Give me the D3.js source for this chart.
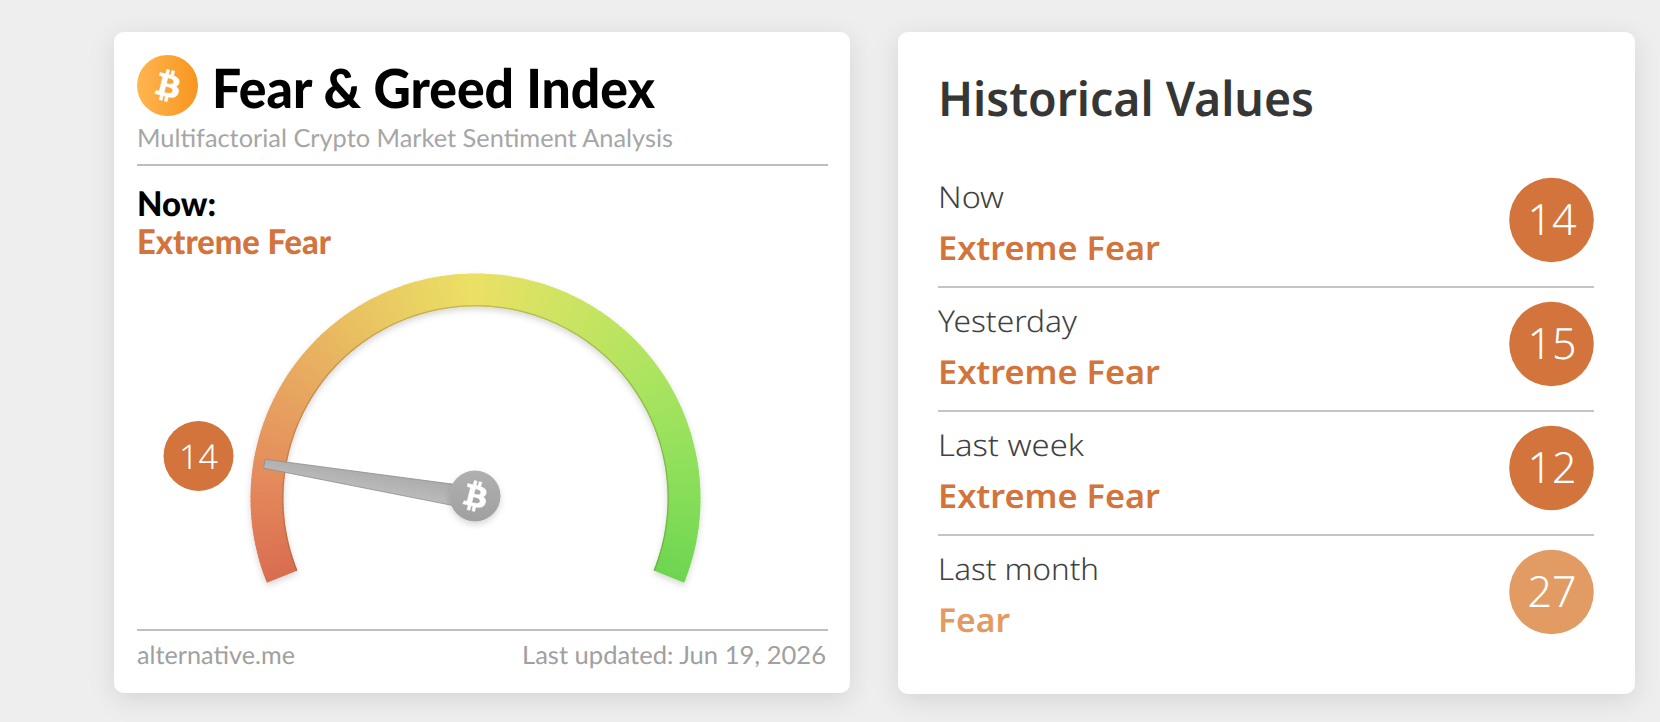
<!DOCTYPE html>
<html>
<head>
<meta charset="utf-8">
<style>
  html, body { margin: 0; padding: 0; background: #eeeeee; }
  svg { display: block; }
  text { text-rendering: geometricPrecision; }
</style>
<script src="https://cdn.jsdelivr.net/npm/d3@7"></script>
</head>
<body>
<svg id="page" width="1660" height="722"></svg>
<script>
// Readings shown in the history list
const periods = ["Now", "Yesterday", "Last week", "Last month"];
const periodValues = [14, 15, 12, 27];
const periodLabels = ["Extreme Fear", "Extreme Fear", "Extreme Fear", "Fear"];
const currentValue = 14;
const currentLabel = "Extreme Fear";

// Gauge colour ramp, from index value to colour
const rampValues = [0, 12, 25, 38, 50, 62, 75, 88, 100];
const rampColors = ["#d96c50", "#e48a5c", "#e8a960", "#e9c962", "#ebe066", "#cbe462", "#abe45f", "#8bdf5a", "#6dd551"];

// Sentiment bands used for the badges and their captions
const bandLimits = [25, 46, 55, 75];
const bandColors = ["#d2743b", "#e39b64", "#d8c45c", "#9bc95c", "#65b94f"];

const BTC_GLYPH = "M23.189 14.02c.314-2.096-1.283-3.223-3.465-3.975l.708-2.84-1.728-.43-.69 2.765c-.454-.114-.92-.22-1.385-.326l.695-2.783L15.596 6l-.708 2.839c-.376-.086-.746-.17-1.104-.26l.002-.009-2.384-.595-.46 1.846s1.283.294 1.256.312c.7.175.826.638.805 1.006l-.806 3.235c.048.012.11.03.18.057l-.183-.045-1.13 4.532c-.086.212-.303.531-.793.41.018.025-1.256-.313-1.256-.313l-.858 1.978 2.25.561c.418.105.828.215 1.231.318l-.715 2.872 1.727.43.708-2.84c.472.127.93.245 1.378.357l-.706 2.828 1.728.43.715-2.866c2.948.558 5.164.333 6.097-2.333.752-2.146-.037-3.385-1.588-4.192 1.13-.26 1.98-1.003 2.207-2.538zm-3.95 5.538c-.533 2.147-4.148.986-5.32.695l.95-3.805c1.172.293 4.929.872 4.37 3.11zm.535-5.569c-.487 1.953-3.495.96-4.47.717l.86-3.45c.975.243 4.118.696 3.61 2.733z";

const svg = d3.select("#page");
const defs = svg.append("defs");

const bandColor = d3.scaleThreshold().domain(bandLimits).range(bandColors);
const rampColor = d3.scaleLinear().domain(rampValues).range(rampColors);

// Shared filters and gradients
const cardShadow = defs.append("filter").attr("id", "cardShadow")
  .attr("x", "-10%").attr("y", "-10%").attr("width", "120%").attr("height", "120%");
cardShadow.append("feDropShadow").attr("dx", 0).attr("dy", 6).attr("stdDeviation", 12)
  .attr("flood-color", "#000").attr("flood-opacity", 0.11);

const gaugeShadow = defs.append("filter").attr("id", "gaugeShadow")
  .attr("x", "-10%").attr("y", "-10%").attr("width", "120%").attr("height", "125%");
gaugeShadow.append("feDropShadow").attr("dx", 0).attr("dy", 3).attr("stdDeviation", 3)
  .attr("flood-color", "#000").attr("flood-opacity", 0.16);

const iconFill = defs.append("linearGradient").attr("id", "iconFill");
iconFill.append("stop").attr("offset", "0%").attr("stop-color", "#ffb551");
iconFill.append("stop").attr("offset", "100%").attr("stop-color", "#f7961f");

const needleFill = defs.append("linearGradient").attr("id", "needleFill");
needleFill.append("stop").attr("offset", "0%").attr("stop-color", "#bcbcbc");
needleFill.append("stop").attr("offset", "100%").attr("stop-color", "#ababab");

const hubFill = defs.append("linearGradient").attr("id", "hubFill")
  .attr("x1", 0).attr("x2", 0).attr("y1", 0).attr("y2", 1);
hubFill.append("stop").attr("offset", "0%").attr("stop-color", "#b0b0b0");
hubFill.append("stop").attr("offset", "100%").attr("stop-color", "#a0a0a0");

// Text helper: the width is pinned so each line keeps its measure in the fallback face
function label(parent, str, x, y, opts) {
  const t = parent.append("text")
    .attr("x", x).attr("y", y)
    .attr("font-family", opts.family)
    .attr("font-size", opts.size)
    .attr("font-weight", opts.weight || 400)
    .attr("fill", opts.fill)
    .attr("text-anchor", opts.anchor || "start")
    .text(str);
  if (opts.width) t.attr("textLength", opts.width).attr("lengthAdjust", "spacingAndGlyphs");
  return t;
}

// Cards
[[114, 32, 736, 661], [898, 32, 737, 662]].forEach(([x, y, w, h]) => {
  svg.append("rect").attr("x", x).attr("y", y).attr("width", w).attr("height", h)
    .attr("rx", 10).attr("fill", "#fff").attr("filter", "url(#cardShadow)");
});

// Left card header
const lato = "Lato, 'Liberation Sans', sans-serif";
const head = svg.append("g");
head.append("circle").attr("cx", 167.5).attr("cy", 85.5).attr("r", 30.5).attr("fill", "url(#iconFill)");
head.append("path").attr("d", BTC_GLYPH).attr("fill", "#fff").attr("stroke", "#fff").attr("stroke-width", 0.35)
  .attr("transform", "translate(167.5,85.5) scale(1.62) translate(-16,-16)");
label(head, "Fear & Greed Index", 212, 108, { family: lato, size: 54, weight: 900, fill: "#000", width: 443 });
label(head, "Multifactorial Crypto Market Sentiment Analysis", 137, 147,
  { family: lato, size: 25, fill: "#a6a6a6", width: 536 });
head.append("line").attr("x1", 137).attr("x2", 828).attr("y1", 165).attr("y2", 165)
  .attr("stroke", "#a8a8a8").attr("stroke-width", 1.5);
label(head, "Now:", 137, 216, { family: lato, size: 34, weight: 900, fill: "#000", width: 79 });
label(head, currentLabel, 137, 254, { family: lato, size: 34, weight: 900, fill: bandColor(currentValue), width: 194 });

// Gauge
const cx = 475.5, cy = 498.5, outerR = 225, innerR = 192;
const angle = d3.scaleLinear().domain([0, 100]).range([-112, 112]);
const toRad = d => d * Math.PI / 180;
const gauge = svg.append("g").attr("transform", `translate(${cx},${cy})`);

const arc = d3.arc().innerRadius(innerR).outerRadius(outerR);
const sliceValues = d3.range(0, 100, 0.5);
const band = gauge.append("g").attr("filter", "url(#gaugeShadow)");
band.selectAll("path").data(sliceValues).join("path")
  .attr("d", v => arc({
    startAngle: toRad(angle(v)),
    endAngle: toRad(angle(Math.min(v + 0.62, 100)))
  }))
  .attr("fill", v => rampColor(v + 0.25));

// Darker bevel along the inner rim of the band
const rim = d3.arc().innerRadius(innerR).outerRadius(innerR + 1.4);
gauge.append("path")
  .attr("d", rim({ startAngle: toRad(angle(0)), endAngle: toRad(angle(100)) }))
  .attr("fill", "#6b5a20").attr("opacity", 0.28);

// Needle, rotated about the gauge centre
const needle = gauge.append("g").attr("transform", `rotate(${angle(currentValue)})`);
needle.append("path")
  .attr("d", d3.line()([[-11, -8], [-4.5, -214], [4.5, -214], [11, -8]]) + "Z")
  .attr("fill", "url(#needleFill)")
  .attr("stroke", "#8a8a8a").attr("stroke-width", 0.7);

// Hub
const hub = svg.append("g").attr("transform", "translate(475,496)");
hub.append("circle").attr("r", 25.5).attr("fill", "url(#hubFill)")
  .attr("filter", "url(#gaugeShadow)");
hub.append("path").attr("d", BTC_GLYPH).attr("fill", "#fff").attr("stroke", "#fff").attr("stroke-width", 0.4)
  .attr("transform", "scale(1.55) translate(-16,-16)");

// Value badge beside the gauge
const nunito = "'Noto Sans', 'Open Sans', sans-serif";
svg.append("circle").attr("cx", 198.5).attr("cy", 456).attr("r", 35).attr("fill", bandColor(currentValue));
label(svg, String(currentValue), 198.5, 469, { family: nunito, size: 34, weight: 350, fill: "#fff", anchor: "middle" });

// Left card footer
svg.append("line").attr("x1", 137).attr("x2", 828).attr("y1", 630).attr("y2", 630)
  .attr("stroke", "#a8a8a8").attr("stroke-width", 1.5);
label(svg, "alternative.me", 137, 664, { family: lato, size: 25, fill: "#a0a0a0", width: 158 });
label(svg, "Last updated: Jun 19, 2026", 826, 664, { family: lato, size: 25, fill: "#a0a0a0", anchor: "end", width: 304 });

// History list
label(svg, "Historical Values", 938, 116, { family: nunito, size: 48, weight: 600, fill: "#363636", width: 376 });

const periodWidths = [66, 139, 146, 161];
const captionWidths = [222, 222, 222, 72];
const rowY = d3.scalePoint().domain(periods).range([0, 372]);

const rows = svg.selectAll("g.row").data(periods).join("g")
  .attr("class", "row")
  .attr("transform", d => `translate(0,${rowY(d)})`);

rows.each(function (name, i) {
  const row = d3.select(this);
  const value = periodValues[i];
  label(row, name, 938, 208, { family: nunito, size: 30, weight: 350, fill: "#414141", width: periodWidths[i] });
  label(row, periodLabels[i], 938, 260, { family: nunito, size: 33, weight: 600, fill: bandColor(value), width: captionWidths[i] });
  row.append("circle").attr("cx", 1551.5).attr("cy", 220).attr("r", 42.3).attr("fill", bandColor(value));
  label(row, String(value), 1552, 235, { family: nunito, size: 43, weight: 350, fill: "#fff", anchor: "middle" });
  if (i < periods.length - 1) {
    row.append("line").attr("x1", 938).attr("x2", 1594).attr("y1", 287).attr("y2", 287)
      .attr("stroke", "#c4c4c4").attr("stroke-width", 2);
  }
});
</script>
</body>
</html>
